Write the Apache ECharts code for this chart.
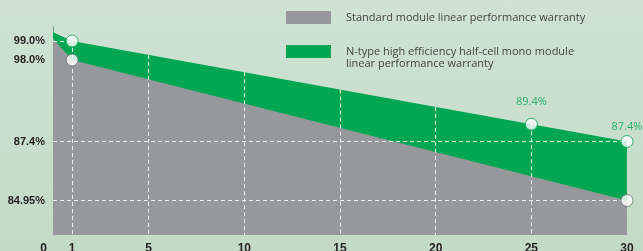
<!DOCTYPE html>
<html>
<head>
<meta charset="utf-8">
<script src="https://cdn.jsdelivr.net/npm/echarts@6/dist/echarts.min.js"></script>
<style>
  html, body { margin: 0; padding: 0; }
  body { background: linear-gradient(to bottom, #cfe2d4, #c3dbc6); }
  #chart { width: 643px; height: 251px; }
</style>
</head>
<body>
<div id="chart"></div>
<script>
// 年份与保证功率（N型组件）
const nTypeYears = [0, 1, 25, 30];
const nTypeValues = [100, 99, 89.4, 87.4];
// 常规组件
const standardYears = [0, 1, 30];
const standardValues = [100, 98, 84.95];
// 刻度
const xTickLabels = [0, 1, 5, 10, 15, 20, 25, 30];
const gridYears = [1, 5, 10, 15, 20, 25];
const nTypeTicks = [99, 87.4];
const standardTicks = [98, 84.95];
const labelledYears = [25, 30];

const nTypeName = "N-type high efficiency half-cell mono module\nlinear performance warranty";
const standardName = "Standard module linear performance warranty";

const GREEN = "#00a651";
const GRAY = "#97989c";

// the picture uses a different scale per curve
const nTypeMin = 76.61, nTypeMax = 100.616;
const standardMin = 81.745, standardMax = 101.065;

// value of the N-type line at a given year (for the grid lines)
const nTypeAt = (x) => {
  for (let i = 1; i < nTypeYears.length; i++) {
    if (x <= nTypeYears[i]) {
      const x0 = nTypeYears[i - 1], x1 = nTypeYears[i];
      const y0 = nTypeValues[i - 1], y1 = nTypeValues[i];
      return y0 + ((y1 - y0) * (x - x0)) / (x1 - x0);
    }
  }
  return nTypeValues[nTypeValues.length - 1];
};

const pct = (v) => v.toFixed(2).replace(/0$/, "") + "%";

const dashed = { type: [4, 3], color: "rgba(255,255,255,0.85)", width: 1 };

const yLabel = {
  fontFamily: "Liberation Sans",
  fontWeight: "bold",
  fontSize: 11,
  color: "#231f20",
  margin: 8,
  formatter: pct,
};

var myChart = echarts.init(document.getElementById("chart"));

var option = {
  animation: false,
  grid: { left: 53, right: 16, top: 27, bottom: 16, outerBoundsMode: "none" },
  legend: {
    orient: "vertical",
    left: 286,
    top: 11,
    padding: 0,
    itemWidth: 45,
    itemHeight: 13,
    itemGap: 9.5,
    icon: "rect",
    selectedMode: false,
    // 空行把两行文字往下推，让第一行对齐色块
    formatter: (name) => (name === nTypeName ? "\n" + name : name),
    textStyle: {
      fontFamily: "Open Sans",
      fontSize: 11,
      lineHeight: 12,
      color: "#444444",
      padding: [0, 0, 0, 10],
    },
    data: [{ name: standardName }, { name: nTypeName }],
  },
  xAxis: {
    type: "value",
    min: 0,
    max: 30,
    axisLine: { show: false },
    axisTick: { show: false },
    splitLine: { show: false },
    axisLabel: {
      customValues: xTickLabels,
      fontFamily: "Liberation Sans",
      fontWeight: "bold",
      fontSize: 12,
      color: "#231f20",
      margin: 8,
      formatter: (v) => (v === 0 ? "{z|0}" : String(v)),
      rich: { z: { padding: [0, 19, 0, 0], fontFamily: "Liberation Sans", fontWeight: "bold", fontSize: 12, color: "#231f20" } },
    },
  },
  yAxis: [
    {
      type: "value",
      min: nTypeMin,
      max: nTypeMax,
      axisLine: { show: true, lineStyle: { color: "#6f9c88", width: 1 } },
      axisTick: { show: false },
      splitLine: { show: false },
      axisLabel: Object.assign({ customValues: nTypeTicks }, yLabel),
    },
    {
      type: "value",
      position: "left",
      min: standardMin,
      max: standardMax,
      axisLine: { show: false },
      axisTick: { show: false },
      splitLine: { show: false },
      axisLabel: Object.assign({ customValues: standardTicks }, yLabel),
    },
  ],
  series: [
    {
      name: nTypeName,
      type: "line",
      yAxisIndex: 0,
      z: 2,
      color: GREEN,
      showSymbol: false,
      lineStyle: { width: 0 },
      areaStyle: { color: GREEN, opacity: 1 },
      data: nTypeYears.map((x, i) => [x, nTypeValues[i]]),
      markLine: {
        silent: true,
        z: 4,
        symbol: "none",
        label: { show: false },
        lineStyle: dashed,
        data: [
          [{ coord: [0, nTypeTicks[0]] }, { coord: [1, nTypeTicks[0]] }],
          [{ coord: [0, nTypeTicks[1]] }, { coord: [30, nTypeTicks[1]] }],
        ].concat(gridYears.map((x) => [{ coord: [x, nTypeAt(x)] }, { coord: [x, nTypeMin] }])),
      },
    },
    {
      name: standardName,
      type: "line",
      yAxisIndex: 1,
      z: 3,
      color: GRAY,
      showSymbol: false,
      lineStyle: { width: 0 },
      areaStyle: { color: GRAY, opacity: 1 },
      data: standardYears.map((x, i) => [x, standardValues[i]]),
      markLine: {
        silent: true,
        z: 4,
        symbol: "none",
        label: { show: false },
        lineStyle: dashed,
        data: [[{ coord: [0, standardTicks[1]] }, { coord: [30, standardTicks[1]] }]],
      },
    },
    {
      type: "scatter",
      yAxisIndex: 0,
      z: 6,
      symbolSize: 12,
      itemStyle: { color: "#fff", borderColor: GREEN, borderWidth: 1 },
      data: nTypeYears.slice(1).map((x, i) => ({
        value: [x, nTypeValues[i + 1]],
        label: {
          show: labelledYears.includes(x),
          position: "top",
          distance: x === 25 ? 10 : 3,
          formatter: (p) => p.value[1].toFixed(1) + "%",
          fontFamily: "Open Sans",
          fontSize: 11,
          color: GREEN,
        },
      })),
    },
    {
      type: "scatter",
      yAxisIndex: 1,
      z: 6,
      symbolSize: 12,
      itemStyle: { color: "#fff", borderColor: "#6d6e71", borderWidth: 1 },
      data: standardYears.slice(1).map((x, i) => [x, standardValues[i + 1]]),
    },
  ],
};

myChart.setOption(option);
</script>
</body>
</html>
